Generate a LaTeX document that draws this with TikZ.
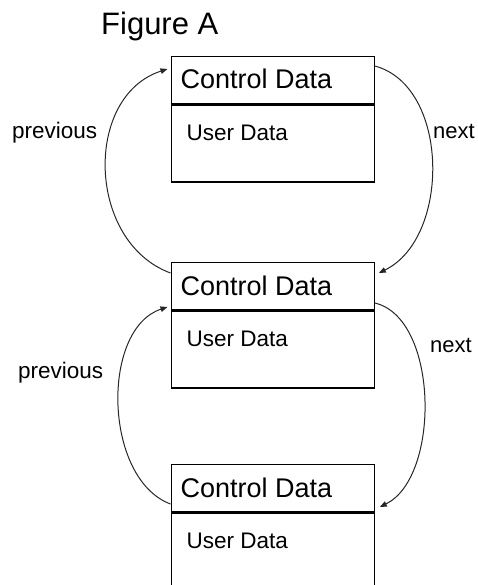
\documentclass[tikz,border=0pt]{standalone}
\usepackage{fontspec}
\setmainfont{Liberation Sans}
\usetikzlibrary{calc,arrows.meta}

\tikzset{
  part/.style={draw=black, line width=1.3pt, minimum width=203pt, inner sep=0pt},
  ctrlpart/.style={part, minimum height=47pt},
  userpart/.style={part, minimum height=77pt},
  ctrltext/.style={anchor=base west, inner sep=0pt, font=\fontsize{27}{30}\selectfont},
  usertext/.style={anchor=base west, inner sep=0pt, font=\fontsize{22.5}{26}\selectfont},
  linklabel/.style={anchor=base west, inner sep=0pt, font=\fontsize{22.5}{26}\selectfont},
  link/.style={draw=black!85, line width=1pt, -{Triangle[length=7pt,width=5.5pt]}},
}

\begin{document}
\begin{tikzpicture}[x=1pt, y=-1pt]
  \useasboundingbox (0,0) rectangle (477,585);
  \clip (0,0) rectangle (477,585);

  % title
  \node[anchor=base west, inner sep=0pt, font=\fontsize{31}{36}\selectfont] (title) at (101,35) {Figure A};

  % three list elements: a control row above a user-data area
  \foreach \i/\top in {1/56, 2/262, 3/464} {
    \node[ctrlpart, anchor=north west] (c\i) at (170.5,\top) {};
    \node[userpart, anchor=north] (u\i) at (c\i.south) {};
    \node[ctrltext] (ct\i) at ($(c\i.north west)+(10,33)$) {Control Data};
    \node[usertext] (ut\i) at ($(u\i.north west)+(16,36)$) {User Data};
  }

  % previous / next links between the elements
  \draw[link] ($(c2.north west)+(0,11)$) .. controls +(-84,-31) and +(-84,27) .. ($(c1.north west)+(-3,13)$);
  \draw[link] ($(c1.north east)+(0,10)$) .. controls +(75,20) and +(72,-35) .. ($(c2.north east)+(4,11)$);
  \draw[link] ($(c3.north west)+(0,40)$) .. controls +(-67,-25) and +(-67,22) .. ($(c2.north west)+(-3,45)$);
  \draw[link] ($(c2.north east)+(0,41)$) .. controls +(64,15) and +(61,-30) .. ($(c3.north east)+(5,43)$);

  % link labels
  \node[linklabel] (prev1) at (12,139) {previous};
  \node[linklabel, font=\fontsize{22}{26}\selectfont] (next1) at (433,139) {next};
  \node[linklabel] (prev2) at (18,378) {previous};
  \node[linklabel, font=\fontsize{22}{26}\selectfont] (next2) at (430,352) {next};
\end{tikzpicture}
\end{document}
